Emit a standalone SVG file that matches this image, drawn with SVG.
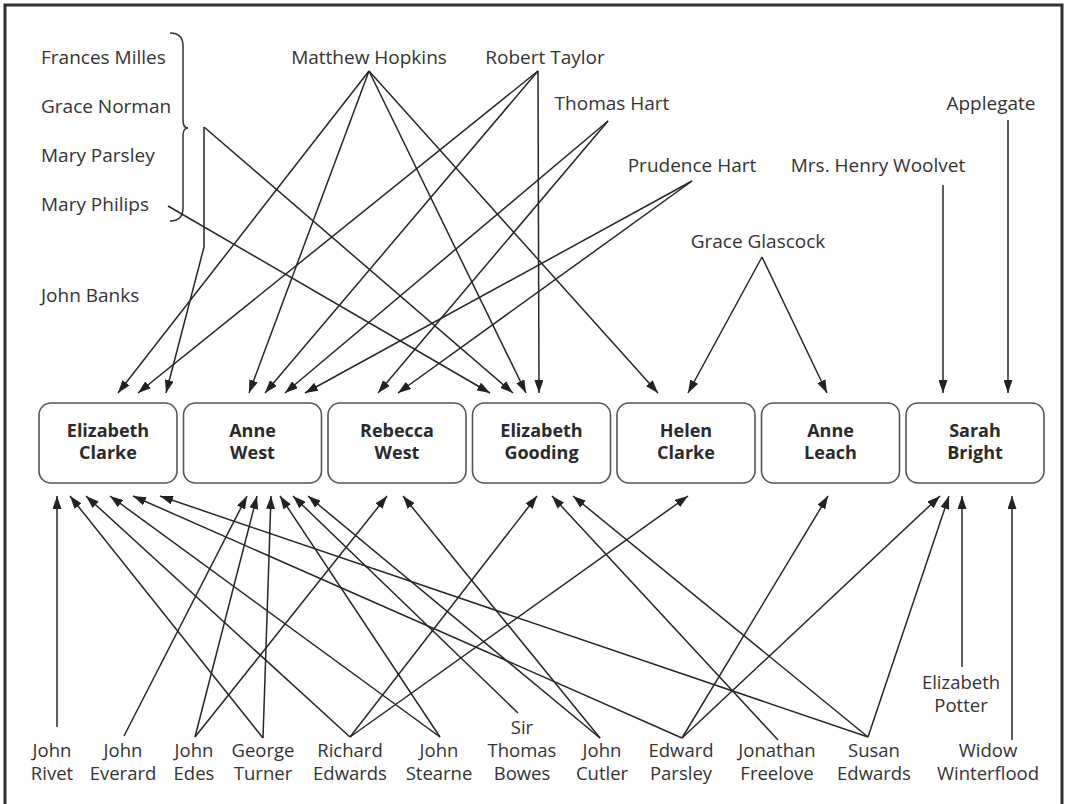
<svg xmlns="http://www.w3.org/2000/svg" width="1066" height="804" viewBox="0 0 1066 804">
<defs>
<marker id="ah" markerUnits="userSpaceOnUse" markerWidth="13" markerHeight="9" refX="13" refY="4.5" orient="auto">
<path d="M0,0 L13,4.5 L0,9 z" fill="#222"/>
</marker>
<style>
.lbl{font-family:"Open Sans","Liberation Sans",sans-serif;font-size:19px;fill:#333;}
.bl{font-size:18.5px;}
.mid{text-anchor:middle;}
.nd rect{fill:#fff;stroke:#555;stroke-width:1.6;}
.nd text{font-family:"Open Sans","Liberation Sans",sans-serif;font-size:18px;font-weight:700;fill:#2a2a2a;text-anchor:middle;}
.cn path{fill:none;stroke:#262626;stroke-width:1.5;marker-end:url(#ah);}
.plain{fill:none;stroke:#333;stroke-width:1.5;}
</style>
</defs>
<rect x="0" y="0" width="1066" height="804" fill="#fff"/>
<rect x="5" y="5" width="1057" height="820" fill="none" stroke="#333" stroke-width="3"/>

<g id="labels-top">
<text class="lbl" x="41" y="64">Frances Milles</text>
<text class="lbl" x="41" y="113">Grace Norman</text>
<text class="lbl" x="41" y="162">Mary Parsley</text>
<text class="lbl" x="41" y="211">Mary Philips</text>
<text class="lbl" x="41" y="302">John Banks</text>
<text class="lbl mid" x="369" y="64">Matthew Hopkins</text>
<text class="lbl mid" x="545" y="64">Robert Taylor</text>
<text class="lbl mid" x="612" y="110">Thomas Hart</text>
<text class="lbl mid" x="692" y="172">Prudence Hart</text>
<text class="lbl mid" x="878" y="172">Mrs. Henry Woolvet</text>
<text class="lbl mid" x="991" y="110">Applegate</text>
<text class="lbl mid" x="758" y="248">Grace Glascock</text>
</g>
<path id="brace" class="plain" d="M170,33 Q183,33 183,46 L183,120 Q183,128 188,128 Q183,128 183,136 L183,208 Q183,221 170,221"/>

<g id="labels-bottom">
<text class="lbl bl mid" x="52" y="757">John</text><text class="lbl bl mid" x="52" y="780">Rivet</text>
<text class="lbl bl mid" x="123" y="757">John</text><text class="lbl bl mid" x="123" y="780">Everard</text>
<text class="lbl bl mid" x="194" y="757">John</text><text class="lbl bl mid" x="194" y="780">Edes</text>
<text class="lbl bl mid" x="263" y="757">George</text><text class="lbl bl mid" x="263" y="780">Turner</text>
<text class="lbl bl mid" x="350" y="757">Richard</text><text class="lbl bl mid" x="350" y="780">Edwards</text>
<text class="lbl bl mid" x="439" y="757">John</text><text class="lbl bl mid" x="439" y="780">Stearne</text>
<text class="lbl bl mid" x="522" y="734">Sir</text><text class="lbl bl mid" x="522" y="757">Thomas</text><text class="lbl bl mid" x="522" y="780">Bowes</text>
<text class="lbl bl mid" x="602" y="757">John</text><text class="lbl bl mid" x="602" y="780">Cutler</text>
<text class="lbl bl mid" x="681" y="757">Edward</text><text class="lbl bl mid" x="681" y="780">Parsley</text>
<text class="lbl bl mid" x="777" y="757">Jonathan</text><text class="lbl bl mid" x="777" y="780">Freelove</text>
<text class="lbl bl mid" x="874" y="757">Susan</text><text class="lbl bl mid" x="874" y="780">Edwards</text>
<text class="lbl bl mid" x="988" y="757">Widow</text><text class="lbl bl mid" x="988" y="780">Winterflood</text>
<text class="lbl bl mid" x="961" y="689">Elizabeth</text><text class="lbl bl mid" x="961" y="712">Potter</text>
</g>

<g id="n1" class="nd"><rect x="39" y="403" width="138" height="80" rx="12"/><text x="108" y="437">Elizabeth</text><text x="108" y="459">Clarke</text></g>
<g id="n2" class="nd"><rect x="183.5" y="403" width="138" height="80" rx="12"/><text x="252.5" y="437">Anne</text><text x="252.5" y="459">West</text></g>
<g id="n3" class="nd"><rect x="328" y="403" width="138" height="80" rx="12"/><text x="397" y="437">Rebecca</text><text x="397" y="459">West</text></g>
<g id="n4" class="nd"><rect x="472.5" y="403" width="138" height="80" rx="12"/><text x="541.5" y="437">Elizabeth</text><text x="541.5" y="459">Gooding</text></g>
<g id="n5" class="nd"><rect x="617" y="403" width="138" height="80" rx="12"/><text x="686" y="437">Helen</text><text x="686" y="459">Clarke</text></g>
<g id="n6" class="nd"><rect x="761.5" y="403" width="138" height="80" rx="12"/><text x="830.5" y="437">Anne</text><text x="830.5" y="459">Leach</text></g>
<g id="n7" class="nd"><rect x="906" y="403" width="138" height="80" rx="12"/><text x="975" y="437">Sarah</text><text x="975" y="459">Bright</text></g>

<g id="connectors" class="cn">
<path d="M204,127 L204,247 L166,393"/>
<path d="M204,127 L513,393"/>
<path d="M168,206 L490,393"/>
<path d="M369,71 L118,393"/>
<path d="M369,71 L249,393"/>
<path d="M369,71 L526,393"/>
<path d="M369,71 L658,393"/>
<path d="M538,71 L138,393"/>
<path d="M538,71 L265,393"/>
<path d="M538,71 L539,393"/>
<path d="M608,121 L285,393"/>
<path d="M608,121 L378,393"/>
<path d="M692,181 L305,393"/>
<path d="M692,181 L398,393"/>
<path d="M762,257 L688,393"/>
<path d="M762,257 L827,393"/>
<path d="M943,185 L943,393"/>
<path d="M1008,120 L1008,393"/>
<path d="M57,727 L57,496"/>
<path d="M124,736 L247,496"/>
<path d="M195,737 L257,496"/>
<path d="M195,737 L387,496"/>
<path d="M263,738 L271,496"/>
<path d="M263,738 L70,496"/>
<path d="M350,737 L86,496"/>
<path d="M350,737 L537,496"/>
<path d="M350,737 L688,496"/>
<path d="M440,737 L110,496"/>
<path d="M440,737 L280,496"/>
<path d="M518,713 L293,496"/>
<path d="M600,738 L308,496"/>
<path d="M600,738 L403,496"/>
<path d="M682,738 L133,496"/>
<path d="M682,738 L828,496"/>
<path d="M682,738 L940,496"/>
<path d="M778,740 L552,496"/>
<path d="M868,737 L160,496"/>
<path d="M868,737 L573,496"/>
<path d="M868,737 L949,496"/>
<path d="M962,667 L962,496"/>
<path d="M1012,740 L1012,496"/>
</g>
</svg>
